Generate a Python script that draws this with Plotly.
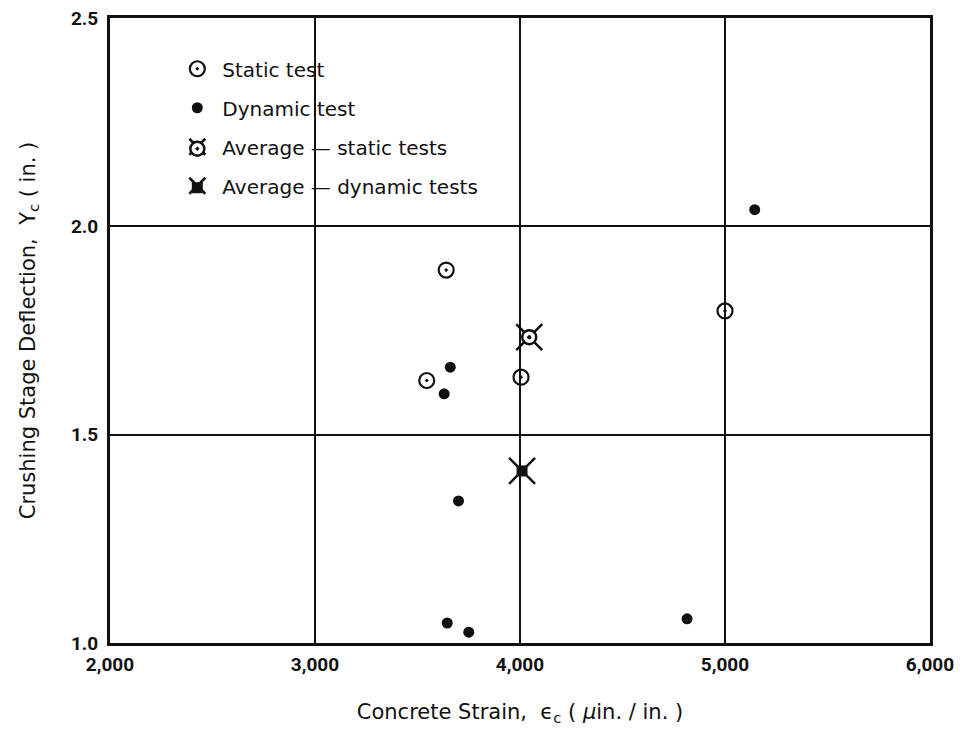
import plotly.graph_objects as go

# Data
static_x = [3640, 3545, 4005, 5000]
static_y = [1.895, 1.630, 1.638, 1.797]

dynamic_x = [5145, 3660, 3630, 3700, 3645, 3750, 4815]
dynamic_y = [2.040, 1.662, 1.598, 1.341, 1.048, 1.026, 1.058]

avg_static_x = [4045]
avg_static_y = [1.734]

avg_dynamic_x = [4010]
avg_dynamic_y = [1.413]

x_ticks = [2000, 3000, 4000, 5000, 6000]
x_tick_labels = ["2,000", "3,000", "4,000", "5,000", "6,000"]
y_ticks = [1.0, 1.5, 2.0, 2.5]
y_tick_labels = ["1.0", "1.5", "2.0", "2.5"]

names = ["Static test", "Dynamic test", "Average \u2014 static tests", "Average \u2014 dynamic tests"]

FONT = "DejaVu Sans"
TICKFONT = "Roboto"
INK = "#111111"

fig = go.Figure()

fig.add_trace(go.Scatter(
    x=static_x, y=static_y, mode="markers", name=names[0],
    legendgroup="a",
    marker=dict(symbol="circle-open-dot", size=15, color=INK, line=dict(width=2.2, color=INK)),
))
fig.add_trace(go.Scatter(
    x=dynamic_x, y=dynamic_y, mode="markers", name=names[1],
    legendgroup="b",
    marker=dict(symbol="circle", size=11, color=INK),
))
# Average static: X behind circle-dot
fig.add_trace(go.Scatter(
    x=avg_static_x, y=avg_static_y, mode="markers", name=names[2],
    legendgroup="c",
    marker=dict(symbol="x-thin-open", size=26, color=INK, line=dict(width=2.5, color=INK)),
))
fig.add_trace(go.Scatter(
    x=avg_static_x, y=avg_static_y, mode="markers", name=" ",
    legend="legend2", legendgroup="c2",
    marker=dict(symbol="circle-dot", size=14, color="white", line=dict(width=2.5, color=INK)),
))
fig.add_trace(go.Scatter(
    x=avg_static_x, y=avg_static_y, mode="markers", showlegend=False,
    marker=dict(symbol="circle", size=4, color=INK),
))
# Average dynamic: X with filled square
fig.add_trace(go.Scatter(
    x=avg_dynamic_x, y=avg_dynamic_y, mode="markers", name=names[3],
    legendgroup="d",
    marker=dict(symbol="x-thin-open", size=26, color=INK, line=dict(width=2.5, color=INK)),
))
fig.add_trace(go.Scatter(
    x=avg_dynamic_x, y=avg_dynamic_y, mode="markers", name=" ",
    legend="legend2", legendgroup="d2",
    marker=dict(symbol="square", size=11, color=INK),
))

axis_common = dict(
    showline=True, linecolor=INK, linewidth=3, mirror=True,
    showgrid=True, gridcolor=INK, gridwidth=2,
    zeroline=False, ticks="", automargin=False, ticklabeloverflow="allow",
)

fig.update_xaxes(
    range=[2000, 6000], tickvals=x_ticks, ticktext=x_tick_labels,
    tickfont=dict(family=TICKFONT, size=19, color=INK, weight="bold"),
    ticklabelstandoff=2,
    title=dict(text="Concrete Strain,  \u03f5<sub>c</sub> ( <i>\u03bc</i>in. / in. )",
               font=dict(family=FONT, size=21, color=INK), standoff=39),
    **axis_common,
)
fig.update_yaxes(
    range=[1.0, 2.5], tickvals=y_ticks, ticktext=y_tick_labels,
    tickfont=dict(family=TICKFONT, size=19, color=INK, weight="bold"),
    ticklabelstandoff=5,
    title=dict(text="Crushing Stage Deflection,  Y<sub>c</sub> ( in. )",
               font=dict(family=FONT, size=21, color=INK), standoff=30),
    **axis_common,
)

legend_common = dict(
    xanchor="left", yanchor="top",
    bgcolor="rgba(255,255,255,0)", borderwidth=0,
    traceorder="grouped", tracegroupgap=10, itemwidth=40,
)

fig.update_layout(
    width=949, height=718,
    margin=dict(l=102, r=27, t=10, b=83),
    paper_bgcolor="white", plot_bgcolor="white",
    legend=dict(x=0.076, y=0.95, font=dict(family=FONT, size=20, color=INK), **legend_common),
    legend2=dict(x=0.076, y=0.822, font=dict(family=FONT, size=20, color=INK), **legend_common),
)

fig.write_html("out.html")
